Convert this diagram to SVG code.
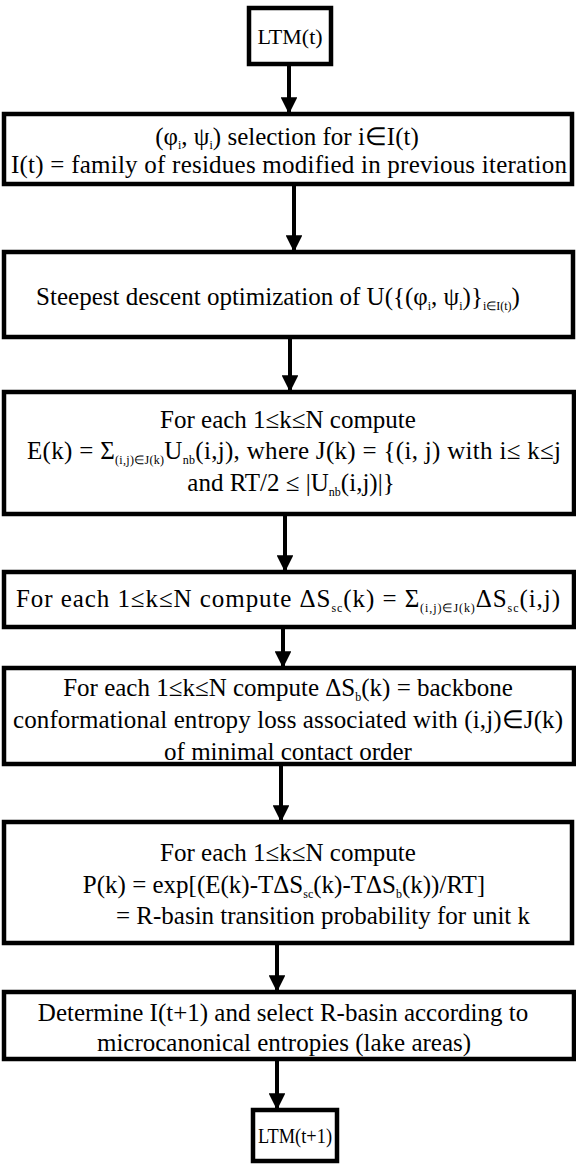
<svg xmlns="http://www.w3.org/2000/svg" width="576" height="1169" viewBox="0 0 576 1169">
  <defs>
    <marker id="head" viewBox="0 0 10 10" refX="10" refY="5" markerWidth="4.2" markerHeight="4.2" markerUnits="strokeWidth" orient="auto">
      <path d="M0,0 L10,5 L0,10 Z" fill="#000"/>
    </marker>
  </defs>
  <style>
    .box { fill: #fff; stroke: #000; stroke-width: 4.5; }
    .t { font-family: 'Liberation Serif', serif; font-size: 25px; fill: #000; text-anchor: middle; }
    .lt { font-size: 22px; }
    .s { font-size: 12px; }
    .link { stroke: #000; stroke-width: 4; fill: none; marker-end: url(#head); }
  </style>
  <rect width="576" height="1169" fill="#fff"/>

  <!-- flow connectors -->
  <g id="connectors">
    <line class="link" x1="289" y1="64" x2="289" y2="114"/>
    <line class="link" x1="294" y1="184" x2="294" y2="252"/>
    <line class="link" x1="290" y1="337" x2="290" y2="392"/>
    <line class="link" x1="285" y1="514" x2="285" y2="572"/>
    <line class="link" x1="283" y1="627" x2="283" y2="668"/>
    <line class="link" x1="281" y1="764" x2="281" y2="822"/>
    <line class="link" x1="277" y1="943" x2="277" y2="992"/>
    <line class="link" x1="277" y1="1059" x2="277" y2="1110"/>
  </g>

  <g id="ltm-t">
    <rect class="box" x="249" y="8" width="82" height="56"/>
    <text class="t lt" x="290" y="44">LTM(t)</text>
  </g>

  <g id="angle-selection">
    <rect class="box" x="4" y="114" width="568" height="70"/>
    <text class="t" x="287" y="145">(φ<tspan class="s" dy="4">i</tspan><tspan dy="-4">, ψ</tspan><tspan class="s" dy="4">i</tspan><tspan dy="-4">) selection for i∈I(t)</tspan></text>
    <text class="t" x="289" y="173" textLength="556">I(t) = family of residues modified in previous iteration</text>
  </g>

  <g id="steepest-descent">
    <rect class="box" x="4" y="252" width="569" height="85"/>
    <text class="t" x="278" y="305">Steepest descent optimization of U({(φ<tspan class="s" dy="5">i</tspan><tspan dy="-5">, ψ</tspan><tspan class="s" dy="5">i</tspan><tspan dy="-5">)}</tspan><tspan class="s" dy="5">i∈I(t)</tspan><tspan dy="-5">)</tspan></text>
  </g>

  <g id="energy">
    <rect class="box" x="4" y="392" width="570" height="122"/>
    <text class="t" x="288" y="428">For each 1≤k≤N compute</text>
    <text class="t" x="294" y="459" textLength="534">E(k) = Σ<tspan class="s" dy="5">(i,j)∈J(k)</tspan><tspan dy="-5">U</tspan><tspan class="s" dy="5">nb</tspan><tspan dy="-5">(i,j), where J(k) = {(i, j) with i≤ k≤j</tspan></text>
    <text class="t" x="291" y="491">and RT/2 ≤ |U<tspan class="s" dy="5">nb</tspan><tspan dy="-5">(i,j)|}</tspan></text>
  </g>

  <g id="side-chain-entropy">
    <rect class="box" x="4" y="572" width="570" height="55"/>
    <text class="t" x="288" y="607" textLength="544">For each 1≤k≤N compute ΔS<tspan class="s" dy="5">sc</tspan><tspan dy="-5">(k) = Σ</tspan><tspan class="s" dy="5">(i,j)∈J(k)</tspan><tspan dy="-5">ΔS</tspan><tspan class="s" dy="5">sc</tspan><tspan dy="-5">(i,j)</tspan></text>
  </g>

  <g id="backbone-entropy">
    <rect class="box" x="4" y="668" width="570" height="96"/>
    <text class="t" x="288" y="696">For each 1≤k≤N compute ΔS<tspan class="s" dy="5">b</tspan><tspan dy="-5">(k) = backbone</tspan></text>
    <text class="t" x="288" y="728" textLength="550">conformational entropy loss associated with (i,j)∈J(k)</text>
    <text class="t" x="288" y="760">of minimal contact order</text>
  </g>

  <g id="transition-probability">
    <rect class="box" x="4" y="822" width="568" height="121"/>
    <text class="t" x="288" y="861">For each 1≤k≤N compute</text>
    <text class="t" x="284" y="893">P(k) = exp[(E(k)-TΔS<tspan class="s" dy="5">sc</tspan><tspan dy="-5">(k)-TΔS</tspan><tspan class="s" dy="5">b</tspan><tspan dy="-5">(k))/RT]</tspan></text>
    <text class="t" x="323" y="924">= R-basin transition probability for unit k</text>
  </g>

  <g id="basin-selection">
    <rect class="box" x="4" y="992" width="570" height="67"/>
    <text class="t" x="283" y="1021">Determine I(t+1) and select R-basin according to</text>
    <text class="t" x="284" y="1051">microcanonical entropies (lake areas)</text>
  </g>

  <g id="ltm-t1">
    <rect class="box" x="253" y="1110" width="84" height="51"/>
    <text class="t lt" x="295" y="1143" textLength="74" lengthAdjust="spacingAndGlyphs">LTM(t+1)</text>
  </g>
</svg>
